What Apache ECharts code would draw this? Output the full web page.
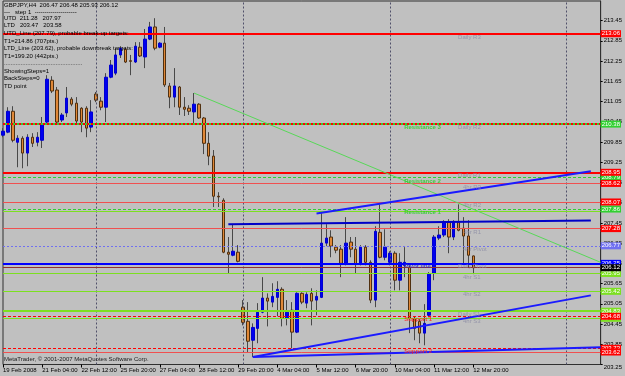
<!DOCTYPE html>
<html>
<head>
<meta charset="utf-8">
<script src="https://cdn.jsdelivr.net/npm/echarts@6/dist/echarts.min.js"></script>
<style>
  html, body { margin: 0; padding: 0; background: #c0c0c0; }
  #chart { width: 625px; height: 376px; }
</style>
</head>
<body>
<div id="chart"></div>
<script>
// GBPJPY H4, 19 Feb 2008 20:00 .. 12 Mar 2008 20:00
const symbol = "GBPJPY,H4";
const tickLabels = ["19 Feb 2008", "21 Feb 04:00", "22 Feb 12:00", "25 Feb 20:00", "27 Feb 04:00",
  "28 Feb 12:00", "29 Feb 20:00", "4 Mar 04:00", "5 Mar 12:00", "6 Mar 20:00",
  "10 Mar 04:00", "11 Mar 12:00", "12 Mar 20:00"];
const futureBars = 26;

const opens = [210.05, 210.14, 210.76, 209.84, 209.96, 209.52, 209.99, 209.84, 209.90, 210.44,
  211.68, 211.39, 210.50, 210.71, 211.12, 211.00, 210.85, 210.85, 210.29, 211.27,
  211.06, 210.88, 211.77, 211.89, 212.43, 212.60, 212.26, 212.22, 212.66, 212.37,
  212.90, 213.26, 212.66, 212.78, 211.51, 211.18, 211.48, 210.88, 210.85, 210.74,
  210.97, 210.56, 209.81, 209.43, 208.24, 208.12, 206.58, 206.49, 206.58, 204.95,
  204.53, 203.97, 204.32, 204.80, 205.22, 205.10, 205.24, 205.48, 204.62, 204.86,
  204.21, 205.36, 205.07, 205.36, 205.16, 205.24, 206.85, 207.03, 206.73, 206.67,
  206.25, 206.88, 206.67, 206.25, 206.73, 206.28, 205.16, 207.17, 206.43, 206.28,
  206.55, 205.75, 206.19, 206.13, 204.62, 204.53, 204.18, 204.71, 205.96, 207.00,
  207.09, 207.47, 207.03, 207.47, 207.29, 207.06, 206.47];
const highs = [210.26, 210.88, 210.91, 210.05, 210.02, 210.08, 210.11, 210.14, 210.59, 211.83,
  211.80, 211.48, 210.71, 211.48, 211.18, 211.18, 210.88, 210.91, 211.09, 211.33,
  211.18, 211.89, 212.28, 212.63, 212.69, 212.66, 212.43, 212.81, 212.81, 213.20,
  213.41, 213.52, 212.81, 213.26, 211.60, 212.04, 211.51, 211.18, 210.94, 211.30,
  211.00, 210.59, 210.14, 209.61, 208.36, 208.18, 207.03, 207.41, 206.79, 205.16,
  205.10, 204.47, 205.07, 205.84, 205.36, 205.66, 205.72, 205.54, 205.16, 205.10,
  205.39, 205.39, 205.39, 205.51, 205.45, 207.74, 207.41, 207.23, 206.79, 206.79,
  207.62, 207.03, 207.03, 206.79, 206.79, 206.34, 207.35, 208.00, 207.26, 206.61,
  206.61, 206.55, 206.73, 206.19, 204.68, 204.62, 205.04, 205.99, 207.09, 207.35,
  207.53, 207.56, 207.53, 208.00, 207.62, 207.53, 206.48];
const lows = [209.99, 210.11, 209.84, 209.10, 209.07, 209.13, 209.70, 209.72, 209.67, 210.41,
  211.30, 210.41, 210.44, 210.59, 210.91, 210.41, 210.14, 209.99, 210.14, 211.03,
  210.79, 210.44, 211.74, 211.83, 212.34, 212.19, 211.83, 212.19, 212.37, 212.04,
  212.87, 212.57, 212.63, 211.48, 210.85, 210.88, 210.65, 210.62, 210.65, 210.41,
  210.53, 209.49, 209.16, 207.92, 207.92, 206.55, 205.96, 206.46, 206.28, 204.41,
  203.61, 203.47, 203.88, 204.77, 204.38, 204.95, 204.68, 204.38, 204.41, 203.73,
  204.18, 205.04, 204.92, 204.41, 204.71, 205.22, 206.76, 206.43, 206.55, 205.84,
  206.19, 206.43, 205.96, 206.19, 206.19, 205.07, 204.95, 206.40, 206.34, 206.19,
  205.45, 205.45, 205.84, 204.18, 203.97, 203.88, 203.82, 204.65, 205.75, 206.94,
  207.03, 206.55, 206.94, 207.20, 206.25, 206.13, 205.93];
const closes = [210.17, 210.76, 209.90, 209.96, 209.52, 209.99, 209.81, 209.99, 210.35, 211.71,
  211.36, 210.44, 210.65, 211.15, 210.97, 210.47, 210.44, 210.26, 210.74, 211.09,
  210.88, 211.77, 212.13, 212.43, 212.63, 212.22, 212.24, 212.69, 212.40, 212.90,
  213.26, 212.63, 212.78, 211.54, 211.18, 211.51, 210.88, 210.82, 210.76, 210.97,
  210.56, 209.81, 209.43, 208.24, 208.22, 206.58, 206.52, 206.61, 206.31, 204.50,
  203.94, 204.35, 204.80, 205.22, 205.13, 205.27, 205.48, 204.62, 204.80, 204.21,
  205.36, 205.10, 205.33, 205.13, 205.27, 206.85, 207.00, 206.76, 206.64, 206.25,
  206.85, 206.67, 206.22, 206.73, 206.28, 205.16, 207.20, 206.43, 206.73, 206.55,
  205.75, 206.28, 206.28, 204.62, 204.32, 204.18, 204.47, 205.93, 207.03, 207.09,
  207.47, 207.03, 207.47, 207.23, 207.06, 206.49, 206.12];

// pivot indicators
const dailyNames = ["Daily R3", "Daily R2", "Daily R1", "Daily Pivot", "Daily S1"];
const dailyLevels = [213.06, 210.38, 208.95, 206.25, 204.83];
const fourHourNames = ["4hr R3", "4hr R2", "4hr R1", "4hr Pivot", "4hr S1", "4hr S2", "4hr S3"];
const fourHourLevels = [208.62, 208.07, 207.28, 206.77, 205.95, 205.42, 204.62];
const pivotNames = ["Resistance 3", "Resistance 2", "Resistance 1", "Pivot line", "Support 1", "Support 2"];
const pivotLevels = [210.38, 208.79, 207.86, 206.25, 204.68, 203.73];
const utdLine = 207.79;
const ltdLine = 203.62;

// TD trend lines: [bar, price] pairs
const greenLine = [[39, 211.30], [122, 206.28]];
const utdUpper = [[64, 207.73], [120, 208.98]];
const utdFlat = [[46, 207.41], [120, 207.52]];
const ltdRising = [[51, 203.47], [120, 205.30]];
const ltdFlat = [[51, 203.47], [122, 203.76]];
const weekStarts = [19, 49, 79, 115];

const infoLines = [
  "---   step 1  ---------------------",
  "UTD  211.28   207.97",
  "LTD   203.47   203.58",
  "UTD_Line (207.79), probable break-up targets:",
  "T1=214.86 (707pts.)",
  "LTD_Line (203.62), probable downbreak targets:",
  "T1=199.20 (442pts.)",
  "...............................................",
  "ShowingSteps=1",
  "BackSteps=0",
  "TD point"
];

const nBars = opens.length;
const categories = [];
for (let i = 0; i < nBars + futureBars; i++) categories.push(String(i));

const wickData = opens.map((o, i) => [o, closes[i], lows[i], highs[i]]);
const bodyData = opens.map((o, i) => [o, closes[i], Math.min(o, closes[i]), Math.max(o, closes[i])]);

const RED = "#ff0000", THINRED = "#f05050", GREEN = "#7ce020", DGREEN = "#30d030",
  PURPLE = "#7070f0", BLUE = "#0000ff";

function level(price, color, width, type, box) {
  const item = { yAxis: price, lineStyle: { color: color, width: width, type: type } };
  if (box) {
    item.label = {
      show: true, position: "end", distance: 0, formatter: price.toFixed(2),
      backgroundColor: box, color: "#ffffff", fontSize: 6, padding: [1, 1, 0, 1]
    };
  } else {
    item.label = { show: false };
  }
  return item;
}

const levelLines = [
  level(fourHourLevels[4], GREEN, 1, "solid", GREEN),
  level(fourHourLevels[5], GREEN, 1, "solid", GREEN),
  level(fourHourLevels[6], GREEN, 1, "solid", GREEN),
  level(dailyLevels[4], GREEN, 2, "solid", GREEN),
  level(pivotLevels[4], RED, 1, [3, 2], RED),
  level(pivotLevels[5], RED, 1, [3, 2], RED),
  level(ltdLine, THINRED, 1, "solid", RED),
  level(pivotLevels[0], DGREEN, 2, "solid", DGREEN),
  level(dailyLevels[1], RED, 2, [2, 2], null),
  level(pivotLevels[1], DGREEN, 1, [3, 2], DGREEN),
  level(pivotLevels[2], DGREEN, 1, [3, 2], DGREEN),
  level(utdLine, GREEN, 1, "solid", null),
  level(dailyLevels[0], RED, 2, "solid", RED),
  level(dailyLevels[2], RED, 2, "solid", RED),
  level(fourHourLevels[0], THINRED, 1, "solid", RED),
  level(fourHourLevels[1], THINRED, 1, "solid", RED),
  level(fourHourLevels[2], THINRED, 1, "solid", RED),
  level(fourHourLevels[3], PURPLE, 1, [2, 2], PURPLE),
  level(pivotLevels[3], BLUE, 2, "solid", BLUE),
  level(closes[nBars - 1], "#903030", 1, "solid", "#000000")
];

const sepLines = weekStarts.map(b => ({
  xAxis: b, lineStyle: { color: "#50506a", width: 1, type: [2, 2] }, label: { show: false }
}));

function textSeries(names, levels, bar, colorFn, bold) {
  return {
    type: "scatter", symbolSize: 1, z: 6, silent: true,
    itemStyle: { color: "transparent" },
    data: names.map((n, i) => ({ name: n, value: [bar, levels[i]],
      label: { color: colorFn(n) } })),
    label: {
      show: true, formatter: "{b}", position: [0, 1], align: "left", verticalAlign: "top",
      fontSize: 6, fontWeight: bold ? "bold" : "normal"
    }
  };
}

function trend(points, color, width, marks) {
  return {
    type: "line", z: 5, silent: true,
    data: points.map((p, i) => ({ value: p, symbol: marks && marks[i] ? "rect" : "none" })),
    symbolSize: 4, showSymbol: true,
    itemStyle: { color: "#c0c0c0", borderColor: color, borderWidth: 1 },
    lineStyle: { color: color, width: width }
  };
}

const chart = echarts.init(document.getElementById("chart"));
const last = nBars - 1;
const header = symbol + "  " + [opens[last], highs[last], lows[last], closes[last]].map(v => v.toFixed(2)).join(" ");
const textTops = [9.2, 15.8, 22.5, 30.8, 38.5, 45.8, 53.5, 60.5, 68.2, 75.5, 83.2];
const graphics = [{ type: "text", left: 4, top: 2.5, z: 10,
  style: { text: header, fontSize: 6, fontFamily: "Liberation Sans", fill: "#000" } }];
infoLines.forEach((t, i) => graphics.push({ type: "text", left: 4, top: textTops[i], z: 10,
  style: { text: t, fontSize: 6, fontFamily: "Liberation Sans", fill: "#000" } }));
graphics.push({ type: "text", left: 4, top: 356.5, z: 10,
  style: { text: "MetaTrader, \u00a9 2001-2007 MetaQuotes Software Corp.", fontSize: 6,
    fontFamily: "Liberation Sans", fill: "#202020" } });

chart.setOption({
  backgroundColor: "#c0c0c0",
  animation: false,
  textStyle: { fontFamily: "Liberation Sans" },
  grid: { left: 2, top: 1, right: 22, bottom: 11.5, show: true, backgroundColor: "#c0c0c0",
    borderColor: "#303030", borderWidth: 1 },
  xAxis: {
    type: "category", data: categories, boundaryGap: false,
    axisLine: { show: false },
    axisTick: { show: true, length: 3, lineStyle: { color: "#000" },
      interval: (i) => i % 8 === 0 && i < nBars },
    axisLabel: { fontSize: 6, color: "#000", align: "left", margin: 3,
      interval: (i) => i % 8 === 0 && i < nBars,
      formatter: (v, i) => tickLabels[Math.round(i / 8)] || "" },
    splitLine: { show: false }
  },
  yAxis: {
    type: "value", position: "right", min: 203.25, max: 214.03, interval: 0.6, scale: true,
    axisLine: { show: true, lineStyle: { color: "#303030" } },
    axisTick: { show: true, length: 2, lineStyle: { color: "#000" } },
    axisLabel: { fontSize: 6, color: "#000", margin: 3, showMaxLabel: false,
      verticalAlignMinLabel: "top", formatter: (v) => v.toFixed(2) },
    splitLine: { show: false }
  },
  graphic: graphics,
  series: [
    {
      type: "candlestick", name: "wicks", barWidth: 1, data: wickData, z: 2,
      itemStyle: { color: "#484848", color0: "#484848", borderColor: "#484848", borderColor0: "#484848", borderWidth: 1 }
    },
    {
      type: "candlestick", name: "bodies", barWidth: 3, data: bodyData, z: 3,
      itemStyle: { color: "#0000f0", color0: "#e08838", borderColor: "#0000d0", borderColor0: "#503010", borderWidth: 1 },
      markLine: { silent: true, symbol: ["none", "none"], animation: false, data: sepLines.concat(levelLines) }
    },
    trend(greenLine, "#58d858", 1),
    trend(utdFlat, "#0000c8", 2),
    trend(utdUpper, "#1a1aff", 2),
    trend(ltdRising, "#1a1aff", 2, [false, true]),
    trend(ltdFlat, "#1a1aff", 2, [true, false]),
    textSeries(dailyNames, dailyLevels, 93, () => "#8a8aa4", false),
    textSeries(fourHourNames, fourHourLevels, 94, () => "#8a8aa4", false),
    textSeries(pivotNames, pivotLevels, 82,
      (n) => n.indexOf("Support") === 0 ? "#ff2020" : (n === "Pivot line" ? "#3030c0" : "#20d020"), true)
  ]
});
</script>
</body>
</html>
